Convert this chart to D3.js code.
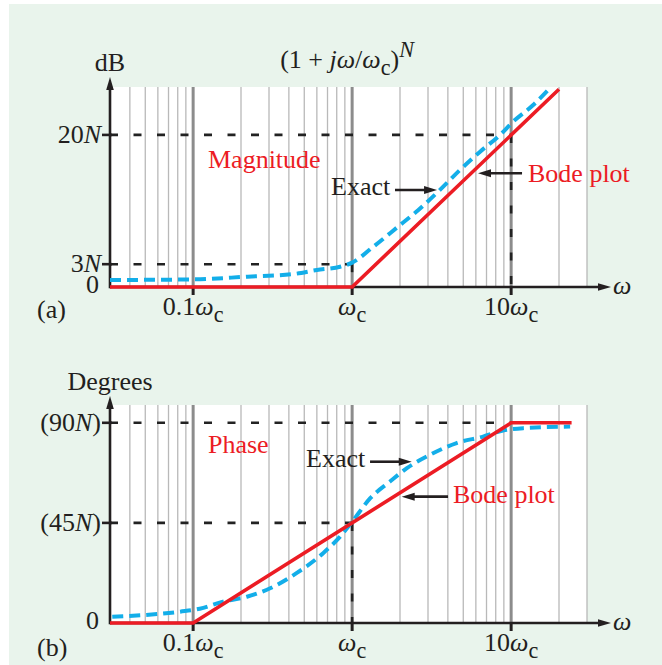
<!DOCTYPE html>
<html><head><meta charset="utf-8">
<script src="https://cdn.jsdelivr.net/npm/d3@7"></script>
<style>body{margin:0;background:#fff}svg{display:block}</style>
</head><body>
<script>
// ---------- data ----------
const freqDomain = [0.03, 30];
const minorFreqs = [0.04,0.05,0.06,0.07,0.08,0.09,0.2,0.3,0.4,0.5,0.6,0.7,0.8,0.9,2,3,4,5,6,7,8,9,20,30];
const decadeFreqs = [0.1, 1, 10];
const decadeLabels = ["0.1", "", "10"];

const magDomain = [0, 26.3];
const magBode = [[0.03,0],[1,0],[20,26]];
const magExact = [[0.03,0.92],[0.1,1.0],[0.22,1.36],[0.43,1.71],[0.6,2.24],[0.84,2.67],[1,3.2],[1.36,5.3],[1.91,7.8],[2.6,10.1],[3.58,12.8],[4.77,15.4],[6.38,17.8],[8.52,20.0],[10.3,21.75],[13.7,23.9],[17.6,26.2]];
const magTickVals = [20, 3, 0];
const magTickNums = ["20", "3", "0"];
const magTickSyms = ["N", "N", ""];

const phaseDomain = [0, 98];
const phaseBode = [[0.03,0],[0.1,0],[10,90],[24,90]];
const phaseExact = [[0.031,2.8],[0.083,5.1],[0.11,6.4],[0.154,9.6],[0.218,11.8],[0.305,15.6],[0.449,22.5],[0.657,31.4],[0.84,38.8],[1.0,45.5],[1.3,56.1],[1.73,63.6],[2.21,69.6],[3.09,75.6],[4.54,80.9],[6.66,83.8],[8.9,86.5],[11.9,87.6],[23.5,88.3]];
const phaseTickVals = [90, 45, 0];
const phaseTickNums = ["(90", "(45", "0"];
const phaseTickSyms = ["N", "N", ""];

// ---------- layout ----------
const W = 662, H = 665;
const FONT = "'Liberation Serif','Times New Roman',serif";
const TXT = "#231f20", RED = "#ec1c24", BLUE = "#13aee9", BG = "#e9f4ec";
const FS = 26;

const svg = d3.select("body").append("svg").attr("width", W).attr("height", H)
  .style("font-family", FONT);
svg.append("rect").attr("x", 9).attr("y", 4).attr("width", W - 9).attr("height", H - 4).attr("fill", BG);

const x = d3.scaleLog().domain(freqDomain).range([110, 587]);

function rich(g, px, py, parts, anchor, size, color) {
  const t = g.append("text").attr("x", px).attr("y", py)
    .attr("text-anchor", anchor).attr("font-size", size).attr("fill", color || TXT);
  let shift = 0;
  parts.forEach(p => {
    if (!p.t) return;
    const s = t.append("tspan").text(p.t);
    if (p.i) s.attr("font-style", "italic");
    const want = p.sub ? 7 : p.sup ? -11 : 0;
    if (want !== shift) { s.attr("dy", want - shift); shift = want; }
    if (p.sub || p.sup) s.attr("font-size", size * 0.85);
  });
  return t;
}

function arrowHead(g, tx, ty, dir, len, half, color) {
  let pts;
  if (dir === "r") pts = [[tx,ty],[tx-len,ty-half],[tx-len,ty+half]];
  else if (dir === "l") pts = [[tx,ty],[tx+len,ty-half],[tx+len,ty+half]];
  else pts = [[tx,ty],[tx-half,ty+len],[tx+half,ty+len]];
  g.append("path").attr("d", d3.line()(pts) + "Z").attr("fill", color || TXT);
}

function panel(opts) {
  const y = d3.scaleLinear().domain(opts.domain).range([opts.bottom, opts.top]);
  const g = svg.append("g");
  const x0 = x.range()[0], x1 = x.range()[1];
  g.append("rect").attr("x", x0).attr("y", y(opts.domain[1])).attr("width", x1 - x0)
    .attr("height", y(0) - y(opts.domain[1])).attr("fill", "#fff");
  g.selectAll(".minor").data(minorFreqs).join("line")
    .attr("x1", d => x(d)).attr("x2", d => x(d))
    .attr("y1", y(opts.domain[1])).attr("y2", y(0))
    .attr("stroke", "#b9b9b9").attr("stroke-width", 1.3);
  g.selectAll(".major").data(decadeFreqs).join("line")
    .attr("x1", d => x(d)).attr("x2", d => x(d))
    .attr("y1", y(opts.domain[1])).attr("y2", y(0))
    .attr("stroke", "#8c8c8c").attr("stroke-width", 3);
  const dash = g.append("g").attr("stroke", "#222").attr("stroke-width", 2.6)
    .attr("stroke-dasharray", "8,15.5").attr("fill", "none");
  opts.refs.forEach(r => {
    dash.append("path").attr("d", d3.line().x(d => x(d[0])).y(d => y(d[1]))(r));
  });
  // axes (under the curves)
  const ax = g.append("g").attr("stroke", TXT).attr("stroke-width", 2.6);
  ax.append("line").attr("x1", x0).attr("x2", 600).attr("y1", y(0)).attr("y2", y(0));
  ax.append("line").attr("x1", x0).attr("x2", x0).attr("y1", y(0) + 1.3).attr("y2", opts.arrowTop + 10);
  arrowHead(g, 611, y(0), "r", 13, 3.8);
  arrowHead(g, x0, opts.arrowTop, "u", 13, 3.8);
  g.selectAll(".xt").data(decadeFreqs).join("line")
    .attr("x1", d => x(d)).attr("x2", d => x(d)).attr("y1", y(0)).attr("y2", y(0) + 8)
    .attr("stroke", TXT).attr("stroke-width", 3);
  // curves
  g.append("path").attr("d", d3.line().x(d => x(d[0])).y(d => y(d[1])).curve(d3.curveMonotoneX)(opts.exact))
    .attr("fill", "none").attr("stroke", BLUE).attr("stroke-width", 4)
    .attr("stroke-dasharray", "11,6");
  g.append("path").attr("d", d3.line().x(d => x(d[0])).y(d => y(d[1]))(opts.bode))
    .attr("fill", "none").attr("stroke", RED).attr("stroke-width", 3.6)
    .attr("stroke-linejoin", "miter");
  decadeFreqs.forEach((d, i) => {
    rich(g, x(d), y(0) + 28, [{t: decadeLabels[i]}, {t: "ω", i: true}, {t: "c", sub: true}], "middle", FS);
  });
  rich(g, 613, y(0) + 7, [{t: "ω", i: true}], "start", FS);
  opts.tickVals.forEach((v, i) => {
    if (v !== 0) {
      g.append("line").attr("x1", 102).attr("x2", x0 + 2).attr("y1", y(v)).attr("y2", y(v))
        .attr("stroke", TXT).attr("stroke-width", 2.6);
      const parts = [{t: opts.tickNums[i]}, {t: opts.tickSyms[i], i: true}];
      if (opts.paren) parts.push({t: ")"});
      rich(g, 101, y(v) + 8, parts, "end", FS);
    } else {
      rich(g, 99, y(v) + 6, [{t: "0"}], "end", FS);
    }
  });
  rich(g, x0, opts.arrowTop - 6, [{t: opts.yTitle}], "middle", FS);
  rich(g, 37, opts.letterY, [{t: opts.letter}], "start", FS);
  opts.texts.forEach(a => {
    rich(g, x(a.w), y(a.v), [{t: a.t}], "start", FS, a.c);
  });
  opts.arrows.forEach(a => {
    const yy = y(a.v), xa = x(a.from), xb = x(a.to);
    const dir = xb > xa ? "r" : "l";
    g.append("line").attr("x1", xa).attr("x2", dir === "r" ? xb - 10 : xb + 10)
      .attr("y1", yy).attr("y2", yy).attr("stroke", TXT).attr("stroke-width", 2.6);
    arrowHead(g, xb, yy, dir, 13, 4);
  });
  return y;
}

rich(svg, 347, 68, [{t: "(1 + "}, {t: "jω", i: true}, {t: "/"}, {t: "ω", i: true}, {t: "c", sub: true}, {t: ")"}, {t: "N", i: true, sup: true}], "middle", FS);

panel({
  domain: magDomain, top: 87, bottom: 287, arrowTop: 77,
  exact: magExact, bode: magBode,
  refs: [[[0.03,20],[10,20]], [[10,20],[10,0]], [[0.03,3],[1,3]], [[1,3],[1,0]]],
  tickVals: magTickVals, tickNums: magTickNums, tickSyms: magTickSyms, paren: false,
  yTitle: "dB", letter: "(a)", letterY: 318,
  texts: [{t: "Magnitude", w: 0.124, v: 15.6, c: RED}, {t: "Exact", w: 0.737, v: 12.1, c: TXT}, {t: "Bode plot", w: 12.77, v: 13.85, c: RED}],
  arrows: [{from: 1.86, to: 3.42, v: 12.75}, {from: 11.71, to: 6.19, v: 14.95}]
});

panel({
  domain: phaseDomain, top: 405, bottom: 623, arrowTop: 396,
  exact: phaseExact, bode: phaseBode,
  refs: [[[0.03,90],[10,90]], [[0.03,45],[1,45]], [[1,45],[1,0]]],
  tickVals: phaseTickVals, tickNums: phaseTickNums, tickSyms: phaseTickSyms, paren: true,
  yTitle: "Degrees", letter: "(b)", letterY: 656,
  texts: [{t: "Phase", w: 0.124, v: 76.4, c: RED}, {t: "Exact", w: 0.513, v: 70.3, c: TXT}, {t: "Bode plot", w: 4.31, v: 53.9, c: RED}],
  arrows: [{from: 1.296, to: 2.37, v: 72.5}, {from: 4.01, to: 2.05, v: 56.8}]
});
</script>
</body></html>
